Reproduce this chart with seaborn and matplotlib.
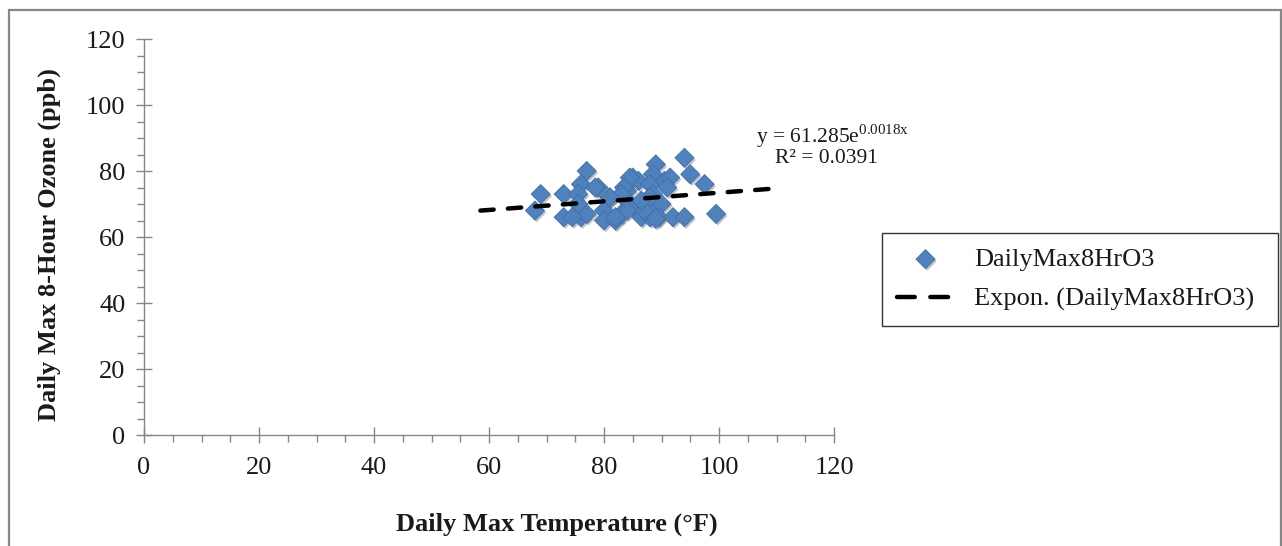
import matplotlib
matplotlib.use("Agg")
import matplotlib.pyplot as plt
import matplotlib.patheffects as pe
from matplotlib.patches import Rectangle
from matplotlib.ticker import MultipleLocator
import seaborn as sns
import pandas as pd

# ---- data ----
temps = [69, 68, 73, 73, 77, 76, 75.5, 76, 77, 79, 78.5, 80, 80, 81, 82, 84, 84, 83,
         85, 86, 85, 86.5, 87.5, 88, 89, 88.5, 88, 88.5, 90.5, 91.5, 91, 90, 89.5, 92,
         94, 94, 95, 97.5, 99.5, 84.5, 83.5, 88, 87, 89, 84, 82, 86.5, 83, 81, 75.5, 74.5]
ozone = [73, 68, 73, 66, 80, 76, 73, 66, 67, 75, 75, 68, 65, 72, 65, 74, 71, 67,
         78, 77, 69, 66, 69, 66, 82, 79, 76, 73, 77, 78, 75, 70, 66, 66,
         66, 84, 79, 76, 67, 78, 75, 72, 68, 65.5, 68, 66, 71, 73, 72, 70, 66]
trend_x = [58.5, 109.0]
trend_y = [68.0, 74.6]
x_ticks = [0, 20, 40, 60, 80, 100, 120]
y_ticks = [0, 20, 40, 60, 80, 100, 120]
series_label = "DailyMax8HrO3"
trend_label = "Expon. (DailyMax8HrO3)"
eq_text = r"y = 61.285e$^{\mathrm{0.0018x}}$"
r2_text = "R² = 0.0391"

sns.set_theme(style="white")
plt.rcParams["font.family"] = ["Liberation Serif", "DejaVu Serif"]
plt.rcParams["mathtext.fontset"] = "custom"
plt.rcParams["mathtext.rm"] = "Liberation Serif"

fig = plt.figure(figsize=(12.82, 5.46), dpi=100)
ax = fig.add_axes([144 / 1282, 1 - 435 / 546, 690 / 1282, 396 / 546])

df = pd.DataFrame({"temp": temps, "ozone": ozone})
sns.scatterplot(data=df, x="temp", y="ozone", marker="D", s=95, color="#4F81BD",
                edgecolor="#3F6FA8", linewidth=0.6, ax=ax, label=series_label, zorder=3)
ax.collections[0].set_path_effects([
    pe.SimplePatchShadow(offset=(1.2, -1.5), shadow_rgbFace="#555555", alpha=0.35),
    pe.Normal()])

sns.lineplot(x=trend_x, y=trend_y, ax=ax, color="black", linewidth=3.2,
             linestyle=(0, (3.0, 3.2)), dash_capstyle="round",
             label=trend_label, zorder=4)

ax.set_xlim(0, 120)
ax.set_ylim(0, 120)
ax.set_xticks(x_ticks)
ax.set_yticks(y_ticks)
ax.xaxis.set_minor_locator(MultipleLocator(5))
ax.yaxis.set_minor_locator(MultipleLocator(5))

for s in ["top", "right"]:
    ax.spines[s].set_visible(False)
for s in ["left", "bottom"]:
    ax.spines[s].set_color("#868686")
    ax.spines[s].set_linewidth(1.0)

ax.tick_params(which="major", direction="inout", length=11, width=1.0, color="#868686",
               labelsize=19, labelcolor="#1a1a1a", left=True, bottom=True)
ax.tick_params(axis="y", which="major", pad=8)
ax.tick_params(axis="x", which="major", pad=10)
ax.tick_params(which="minor", direction="out", length=5, width=1.0, color="#868686",
               left=True, bottom=True)

ax.set_xlabel("Daily Max Temperature (°F)", fontsize=19, fontweight="bold", color="#1a1a1a")
ax.set_ylabel("Daily Max 8-Hour Ozone (ppb)", fontsize=19, fontweight="bold", color="#1a1a1a")
ax.xaxis.set_label_coords(0.599, -0.195)
ax.yaxis.set_label_coords(-0.12, 0.482)

ax.text(119.7, 90.5, eq_text, ha="center", va="center", fontsize=15.5, color="#1a1a1a", clip_on=False)
ax.text(118.7, 83.8, r2_text, ha="center", va="center", fontsize=15.5, color="#1a1a1a", clip_on=False)

leg = ax.legend(loc="center", bbox_to_anchor=(882 / 1282, 1 - 327 / 546, 396 / 1282, 95 / 546),
                bbox_transform=fig.transFigure, mode="expand", frameon=True, fancybox=False,
                fontsize=19, handlelength=2.2, handletextpad=0.75, labelspacing=0.62,
                borderpad=0.55, borderaxespad=0)
leg.get_frame().set_edgecolor("black")
leg.get_frame().set_linewidth(1.0)
for t in leg.get_texts():
    t.set_color("#1a1a1a")
leg.get_lines()[0].set_linestyle((0, (4.0, 3.5)))

fig.patches.append(Rectangle((9 / 1282, -0.1), 1272 / 1282, 1.1 - 10 / 546,
                             transform=fig.transFigure, fill=False,
                             edgecolor="#878787", linewidth=1.6))

fig.savefig("out.png", dpi=100)
